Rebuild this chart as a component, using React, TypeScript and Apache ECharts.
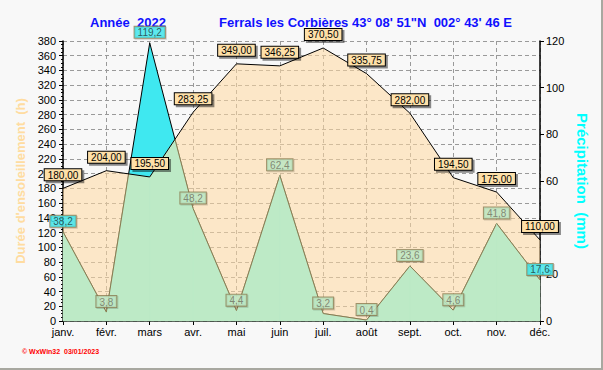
import React, { useEffect, useRef } from "react";
import * as echarts from "echarts";

const months = ["janv.", "févr.", "mars", "avr.", "mai", "juin", "juil.", "août", "sept.", "oct.", "nov.", "déc."];
const sunshine = [180, 204, 195.5, 283.25, 349, 346.25, 370.5, 335.75, 282, 194.5, 175, 110];
const rain = [38.2, 3.8, 119.2, 48.2, 4.4, 62.4, 3.2, 0.4, 23.6, 4.6, 41.8, 17.6];
const rainLabelCyan = [true, false, true, false, false, false, false, false, false, false, false, true];

const SUN_MAX = 380;
const RAIN_MAX = 120;
const K = SUN_MAX / RAIN_MAX;

const FONT = "'Liberation Sans', Arial, sans-serif";

export default function App() {
  const ref = useRef<HTMLDivElement>(null);
  useEffect(() => {
    document.body.style.margin = "0";
    const chart = echarts.init(ref.current!, null, { renderer: "svg" });

    const lerp = (a: number[], b: number[], t: number) => [a[0] + (b[0] - a[0]) * t, a[1] + (b[1] - a[1]) * t];

    const option: any = {
      animation: false,
      backgroundColor: "#f8f8f8",
      grid: { left: 63, right: 61, top: 41, bottom: 47 },
      xAxis: {
        type: "category",
        data: months,
        boundaryGap: false,
        axisLine: { lineStyle: { color: "#000", width: 1.5 } },
        axisTick: { show: true, length: 4, lineStyle: { color: "#000" } },
        axisLabel: { color: "#000", fontSize: 11, fontFamily: FONT, margin: 5 },
        splitLine: { show: true, lineStyle: { color: "#9a9a9a", type: [4, 3], width: 1 } },
      },
      yAxis: [
        {
          type: "value",
          min: 0,
          max: SUN_MAX,
          interval: 20,
          position: "left",
          name: "Durée d'ensoleillement  (h)",
          nameLocation: "middle",
          nameGap: 35,
          nameTextStyle: { color: "#ffdca0", fontSize: 13, fontWeight: "bold", fontFamily: FONT },
          axisLine: { show: true, lineStyle: { color: "#000", width: 1.5 } },
          axisTick: { show: true, length: 4, lineStyle: { color: "#000" } },
          minorTick: { show: true, splitNumber: 4, length: 2, lineStyle: { color: "#000" } },
          axisLabel: { color: "#000", fontSize: 11, fontFamily: FONT, margin: 7 },
          splitLine: { show: true, lineStyle: { color: "#9a9a9a", type: [4, 3], width: 1 } },
        },
        {
          type: "value",
          min: 0,
          max: RAIN_MAX,
          interval: 20,
          position: "right",
          name: "Précipitation  (mm)",
          nameLocation: "middle",
          nameGap: 32,
          nameRotate: -90,
          nameTextStyle: { color: "#00ffff", fontSize: 15, fontWeight: "bold", fontFamily: FONT },
          axisLine: { show: true, lineStyle: { color: "#000", width: 1.5 } },
          axisTick: { show: true, length: 4, lineStyle: { color: "#000" } },
          axisLabel: { color: "#000", fontSize: 11, fontFamily: FONT, margin: 6 },
          splitLine: { show: false },
        },
      ],
      series: [
        {
          name: "pluie-fond",
          type: "line",
          yAxisIndex: 1,
          data: rain,
          symbol: "none",
          z: 1,
          lineStyle: { color: "#000", width: 1 },
          areaStyle: { color: "#3fe8f0", opacity: 1 },
        },
        {
          name: "soleil-aire",
          type: "line",
          yAxisIndex: 0,
          data: sunshine,
          symbol: "none",
          z: 2,
          lineStyle: { width: 0 },
          areaStyle: { color: "#ffd9a0", opacity: 0.55 },
        },
        {
          name: "pluie-commun",
          type: "custom",
          yAxisIndex: 0,
          z: 3,
          data: months.map((m, i) => [i, 0]),
          encode: { x: 0, y: 1 },
          renderItem: (params: any, api: any) => {
            const i = params.dataIndex;
            if (i >= months.length - 1) return null;
            const s0 = sunshine[i], s1 = sunshine[i + 1];
            const q0 = rain[i] * K, q1 = rain[i + 1] * K;
            const a0 = api.coord([i, s0]), a1 = api.coord([i + 1, s1]);
            const b0 = api.coord([i, q0]), b1 = api.coord([i + 1, q1]);
            const z0 = api.coord([i, 0]), z1 = api.coord([i + 1, 0]);
            const d0 = s0 - q0, d1 = s1 - q1;
            let poly: number[][];
            let line: number[][] | null = null;
            if (d0 >= 0 && d1 >= 0) {
              poly = [z0, b0, b1, z1];
              line = [b0, b1];
            } else if (d0 < 0 && d1 < 0) {
              poly = [z0, a0, a1, z1];
            } else {
              const t = d0 / (d0 - d1);
              const c = lerp(b0, b1, t);
              if (d0 >= 0) {
                poly = [z0, b0, c, a1, z1];
                line = [b0, c];
              } else {
                poly = [z0, a0, c, b1, z1];
                line = [c, b1];
              }
            }
            const children: any[] = [
              { type: "polygon", shape: { points: poly }, style: { fill: "#bdeac6", stroke: "#bdeac6", lineWidth: 0.5 } },
            ];
            if (line) {
              children.push({ type: "polyline", shape: { points: line }, style: { stroke: "#8a7a50", lineWidth: 1, fill: "none" } });
            }
            return { type: "group", children };
          },
        },
        {
          name: "soleil",
          type: "line",
          yAxisIndex: 0,
          data: sunshine,
          z: 5,
          symbol: "circle",
          symbolSize: 0.1,
          itemStyle: { color: "transparent" },
          lineStyle: { color: "#000", width: 1 },
          label: {
            show: true,
            position: "top",
            distance: 8,
            formatter: (p: any) => Number(p.value).toFixed(2).replace(".", ","),
            color: "#000",
            fontSize: 10,
            fontFamily: FONT,
            backgroundColor: "#fee0a8",
            borderColor: "#000",
            borderWidth: 1,
            padding: [1, 3, 0, 3],
            shadowColor: "rgba(0,0,0,0.45)",
            shadowOffsetX: 2,
            shadowOffsetY: 2,
            shadowBlur: 0,
          },
        },
        {
          name: "pluie",
          type: "scatter",
          yAxisIndex: 1,
          z: 6,
          symbolSize: 0.1,
          itemStyle: { color: "transparent" },
          data: rain.map((v, i) => ({
            value: v,
            label: rainLabelCyan[i]
              ? { backgroundColor: "#3fe8f0", color: "#203838" }
              : { backgroundColor: "#bdeac6", color: "#707060" },
          })),
          label: {
            show: true,
            position: "top",
            distance: 5,
            formatter: (p: any) => Number(p.value).toFixed(1).replace(".", ","),
            fontSize: 10,
            fontFamily: FONT,
            borderColor: "#8a7a50",
            borderWidth: 1,
            padding: [1, 3, 0, 3],
            shadowColor: "rgba(0,0,0,0.2)",
            shadowOffsetX: 1,
            shadowOffsetY: 1,
            shadowBlur: 0,
          },
        },
      ],
      graphic: [
        {
          type: "text",
          style: { text: "Année  2022", x: 90, y: 22, fill: "#1010ff", font: `bold 13px ${FONT}`, verticalAlign: "middle" },
        },
        {
          type: "text",
          style: {
            text: "Ferrals les Corbières 43° 08' 51\"N  002° 43' 46 E",
            x: 219,
            y: 22,
            fill: "#1010ff",
            font: `bold 13px ${FONT}`,
            verticalAlign: "middle",
          },
        },
        {
          type: "text",
          style: { text: "© WxWin32  03/01/2023", x: 22, y: 351, fill: "#ff0000", font: `bold 7px ${FONT}`, verticalAlign: "middle" },
        },
      ],
    };
    chart.setOption(option);
    return () => chart.dispose();
  }, []);

  return (
    <div
      style={{
        width: 603,
        height: 370,
        boxSizing: "border-box",
        background: "#f8f8f8",
        borderRight: "2px solid #a8a8a0",
        borderBottom: "2px solid #a8a8a0",
      }}
    >
      <div ref={ref} style={{ width: 601, height: 368 }} />
    </div>
  );
}
